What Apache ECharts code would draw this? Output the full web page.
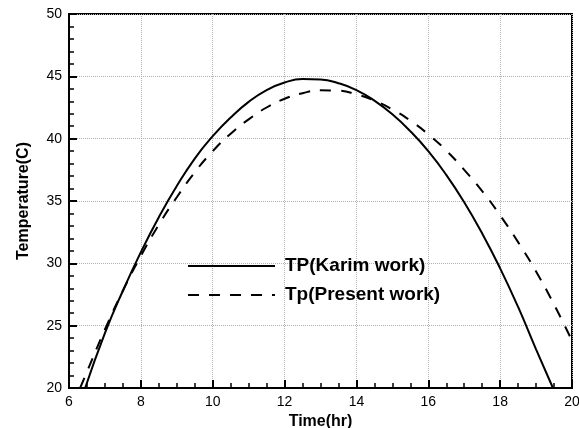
<!DOCTYPE html>
<html>
<head>
<meta charset="utf-8">
<script src="https://cdn.jsdelivr.net/npm/echarts@6/dist/echarts.min.js"></script>
<style>html,body{margin:0;padding:0;background:#fff}#c{width:579px;height:428px}</style>
</head>
<body>
<div id="c"></div>
<script>
var karimX = [6.45,7,7.5,8,8.5,9,9.5,10,10.5,11,11.5,12,12.5,13,13.5,14,14.5,15,15.5,16,16.5,17,17.5,18,18.5,19,19.47];
var karimY = [20,24.4,27.8,30.9,33.7,36.2,38.4,40.2,41.7,42.95,43.9,44.5,44.78,44.75,44.45,43.9,43.05,41.95,40.6,39.0,37.1,34.9,32.4,29.6,26.5,23.1,20];
var presentX = [6.31,6.5,7,7.5,8,8.5,9,9.5,10,10.5,11,11.5,12,12.5,13,13.5,14,14.5,15,15.5,16,16.5,17,17.5,18,18.5,19,19.5,20];
var presentY = [20,21.3,24.7,27.8,30.6,33.1,35.3,37.3,39.0,40.4,41.55,42.5,43.2,43.65,43.88,43.85,43.55,43.05,42.35,41.45,40.35,39.05,37.5,35.8,33.85,31.7,29.35,26.7,23.8];
var seriesNames = ['TP(Karim work)', 'Tp(Present work)'];
var xTitle = 'Time(hr)';
var yTitle = 'Temperature(C)';

function pairs(xs, ys){ return xs.map(function(x,i){ return [x, ys[i]]; }); }

var chart = echarts.init(document.getElementById('c'), null, {renderer:'canvas'});
var font = 'Liberation Sans, Arial, sans-serif';
chart.setOption({
  animation:false,
  backgroundColor:'#fff',
  grid:{left:69, right:7, top:14, bottom:40, containLabel:false, outerBoundsMode:'none',
        show:true, borderColor:'#000', borderWidth:2, backgroundColor:'transparent'},
  legend:{
    orient:'vertical', left:182, top:251, itemWidth:87, itemHeight:14, itemGap:9,
    itemStyle:{opacity:0},
    textStyle:{fontFamily:font, fontSize:19, fontWeight:'bold', color:'#000', padding:[0,0,0,5], lineHeight:20},
    data:seriesNames
  },
  xAxis:{
    type:'value', min:6, max:20, interval:2,
    name:xTitle, nameLocation:'middle', nameGap:21,
    nameTextStyle:{fontFamily:font, fontSize:16, fontWeight:'bold', color:'#000'},
    axisLine:{show:true, lineStyle:{color:'#000', width:2}},
    axisTick:{show:true, inside:true, length:8, lineStyle:{color:'#000', width:2}},
    minorTick:{show:true, splitNumber:4, length:5, lineStyle:{color:'#000', width:1.5}},
    axisLabel:{fontFamily:font, fontSize:14, color:'#000', margin:7},
    splitLine:{show:true, lineStyle:{color:'#b0b0b0', type:'dotted', width:1}}
  },
  yAxis:{
    type:'value', min:20, max:50, interval:5,
    name:yTitle, nameLocation:'middle', nameGap:37,
    nameTextStyle:{fontFamily:font, fontSize:16, fontWeight:'bold', color:'#000'},
    axisLine:{show:true, lineStyle:{color:'#000', width:2}},
    axisTick:{show:true, inside:true, length:8, lineStyle:{color:'#000', width:2}},
    minorTick:{show:true, splitNumber:5, length:5, lineStyle:{color:'#000', width:1.5}},
    axisLabel:{fontFamily:font, fontSize:14, color:'#000', margin:7},
    splitLine:{show:true, lineStyle:{color:'#b0b0b0', type:'dotted', width:1}}
  },
  series:[
    {name:seriesNames[0], type:'line', data:pairs(karimX,karimY), smooth:0.5, symbol:'none', showSymbol:false,
     lineStyle:{color:'#000', width:2, type:'solid'}, itemStyle:{color:'#000'}},
    {name:seriesNames[1], type:'line', data:pairs(presentX,presentY), smooth:0.5, symbol:'none', showSymbol:false,
     lineStyle:{color:'#000', width:2, type:[11,10]}, itemStyle:{color:'#000'}}
  ]
});
</script>
</body>
</html>
